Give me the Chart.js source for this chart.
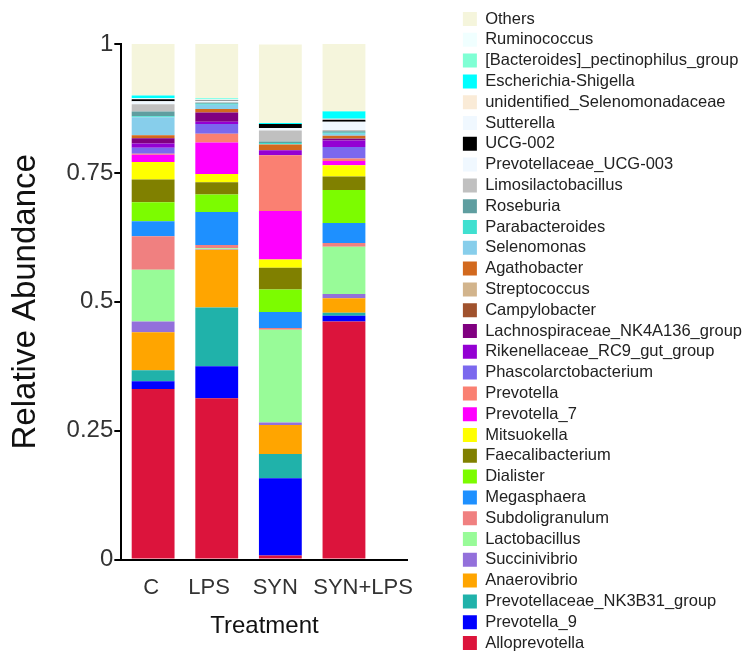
<!DOCTYPE html>
<html>
<head>
<meta charset="utf-8">
<title>Relative Abundance</title>
<script src="https://cdn.jsdelivr.net/npm/chart.js@4.4.1/dist/chart.umd.min.js"></script>
<style>
    html, body { margin: 0; padding: 0; background: #fff; }
    #wrap { width: 752px; height: 662px; position: relative; }
</style>
</head>
<body>
<div id="wrap"><canvas id="barChart"></canvas></div>
<script>
// Treatments (x axis)
const treatments = ['C', 'LPS', 'SYN', 'SYN+LPS'];

// Genera, bottom of the stack first
const genera = [
    'Alloprevotella', 'Prevotella_9', 'Prevotellaceae_NK3B31_group', 'Anaerovibrio',
    'Succinivibrio', 'Lactobacillus', 'Subdoligranulum', 'Megasphaera', 'Dialister',
    'Faecalibacterium', 'Mitsuokella', 'Prevotella_7', 'Prevotella', 'Phascolarctobacterium',
    'Rikenellaceae_RC9_gut_group', 'Lachnospiraceae_NK4A136_group', 'Campylobacter',
    'Streptococcus', 'Agathobacter', 'Selenomonas', 'Parabacteroides', 'Roseburia',
    'Limosilactobacillus', 'Prevotellaceae_UCG-003', 'UCG-002', 'Sutterella',
    'unidentified_Selenomonadaceae', 'Escherichia-Shigella',
    '[Bacteroides]_pectinophilus_group', 'Ruminococcus', 'Others'
];

const colors = [
    '#DC143C', '#0000FF', '#20B2AA', '#FFA500',
    '#9370DB', '#98FB98', '#F08080', '#1E90FF', '#7CFC00',
    '#808000', '#FFFF00', '#FF00FF', '#FA8072', '#7B68EE',
    '#9400D3', '#800080', '#A0522D',
    '#D2B48C', '#D2691E', '#87CEEB', '#40E0D0', '#5F9EA0',
    '#C0C0C0', '#F0F8FF', '#000000', '#F0F8FF',
    '#FAEBD7', '#00FFFF',
    '#7FFFD4', '#F0FFFF', '#F5F5DC'
];

// Relative abundance per treatment, same order as genera
const valuesC = [
    0.331, 0.015, 0.021, 0.074, 0.021, 0.100, 0.065, 0.029, 0.037, 0.044, 0.034, 0.014, 0.002,
    0.012, 0.008, 0.010, 0, 0, 0.006, 0.035, 0.002, 0.009, 0.014, 0.006, 0.004, 0.002, 0,
    0.005, 0, 0, 0.100
];
const valuesLPS = [
    0.313, 0.062, 0.114, 0.112, 0.001, 0.002, 0.006, 0.064, 0.034, 0.024, 0.016, 0.061, 0.017,
    0.019, 0.004, 0.018, 0, 0, 0.007, 0.008, 0.002, 0.002, 0.001, 0.003, 0.001, 0.001, 0.001,
    0.001, 0.001, 0, 0.105
];
const valuesSYN = [
    0.008, 0.150, 0.047, 0.056, 0.005, 0.180, 0.003, 0.031, 0.044, 0.042, 0.016, 0.094, 0.108,
    0, 0.010, 0, 0, 0, 0.011, 0.001, 0.002, 0.003, 0.021, 0.005, 0.008, 0, 0,
    0.002, 0, 0, 0.152
];
const valuesSYNLPS = [
    0.462, 0.011, 0.006, 0.028, 0.008, 0.092, 0.007, 0.039, 0.064, 0.026, 0.022, 0.008, 0.005,
    0.022, 0.013, 0.003, 0.001, 0, 0.005, 0.004, 0.002, 0.003, 0.002, 0.016, 0.004, 0.001, 0.001,
    0.014, 0.001, 0, 0.130
];

const yTicks = [0, 0.25, 0.5, 0.75, 1];

// where the treatment names sit along the x axis (bars are at 0..3)
const labelPos = [-0.03, 0.88, 1.92, 3.3];

const fontFamily = "'Liberation Sans', Arial, sans-serif";

const series = [valuesC, valuesLPS, valuesSYN, valuesSYNLPS];

const datasets = genera.map((name, i) => ({
    label: name,
    data: treatments.map((t, j) => ({ x: j, y: series[j][i] })),
    backgroundColor: colors[i],
    borderWidth: 0,
    categoryPercentage: 1,
    barPercentage: 0.74
}));

Chart.defaults.font.family = fontFamily;
Chart.defaults.color = '#222';

// blank axis used only to reserve space (top margin, gap before legend)
const spacer = (pos, size) => ({
    position: pos,
    display: true,
    grid: { display: false },
    border: { display: false },
    ticks: { display: false },
    afterFit: (scale) => {
        if (scale.isHorizontal()) scale.height = size;
        else scale.width = size;
    }
});

// the layout caps side boxes at a fraction of the width; let the legend use what it needs
const wideLegend = {
    id: 'wideLegend',
    beforeLayout(chart) {
        const lg = chart.legend;
        if (lg && !lg._wide) {
            const orig = lg.update.bind(lg);
            lg.update = (maxWidth, maxHeight, margins) => orig(Math.max(maxWidth, 320), maxHeight, margins);
            lg._wide = true;
        }
    }
};

const ctx = document.getElementById('barChart').getContext('2d');
new Chart(ctx, {
    type: 'bar',
    data: { datasets },
    plugins: [wideLegend],
    options: {
        responsive: true,
        maintainAspectRatio: false,
        animation: false,
        layout: { padding: { top: 0, left: 6, right: 0, bottom: 0 } },
        scales: {
            x: {
                type: 'linear',
                stacked: true,
                offset: false,
                min: -0.5,
                max: 4,
                afterBuildTicks: (scale) => { scale.ticks = labelPos.map(v => ({ value: v })); },
                grid: { display: false, drawTicks: false, offset: false },
                border: { color: '#000', width: 2 },
                ticks: {
                    padding: 15,
                    color: '#333',
                    font: { size: 22 },
                    autoSkip: false,
                    maxRotation: 0,
                    minRotation: 0,
                    callback: (v, i) => treatments[i]
                },
                title: {
                    display: true,
                    text: 'Treatment',
                    color: '#111',
                    font: { size: 24, lineHeight: 1 },
                    padding: { top: -2, bottom: 24 }
                }
            },
            y: {
                stacked: true,
                min: 0,
                max: 1,
                afterBuildTicks: (scale) => { scale.ticks = yTicks.map(v => ({ value: v })); },
                grid: { drawOnChartArea: false, color: '#000', lineWidth: 2, tickLength: 7 },
                border: { color: '#000', width: 2 },
                ticks: { padding: 1, color: '#333', font: { size: 24 }, callback: (v) => String(v) },
                title: {
                    display: true,
                    text: 'Relative Abundance',
                    color: '#111',
                    font: { size: 33 },
                    padding: { top: 0, bottom: 20 }
                }
            },
            topGap: spacer('top', 44),
            gap: spacer('right', 51)
        },
        plugins: {
            legend: {
                position: 'right',
                align: 'center',
                reverse: true,
                labels: {
                    boxWidth: 14,
                    boxHeight: 14,
                    padding: 4.3,
                    color: '#222',
                    font: { size: 16.5 }
                }
            },
            tooltip: { enabled: false }
        }
    }
});
</script>
</body>
</html>
